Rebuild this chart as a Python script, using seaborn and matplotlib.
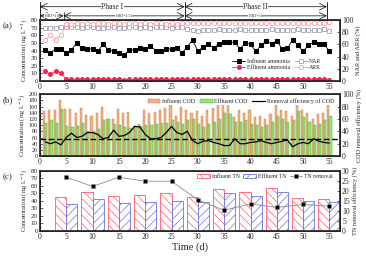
import warnings; warnings.filterwarnings('ignore')
import numpy as np, matplotlib
matplotlib.use('Agg')
import matplotlib.pyplot as plt
import seaborn as sns

sns.set_theme(style='ticks')
plt.rcParams['font.family'] = ['Liberation Serif', 'DejaVu Serif']
plt.rcParams['hatch.linewidth'] = 0.5

# ── data ────────────────────────────────────────────────────────
days = list(range(1, 56))
inf_nh4 = [41, 37, 42, 42, 37, 41, 50, 43, 42, 42, 39, 48, 41, 39, 37, 34, 41, 41, 43, 42,
           46, 40, 40, 42, 42, 43, 37,
           45, 54, 39, 45, 48, 44, 48, 51, 51, 51, 42, 50, 48, 39, 47, 53, 49, 53,
           42, 43, 54, 47, 39, 47, 51, 48, 48, 39]
eff_nh4 = [13, 9, 13, 11, 2, 2, 2, 2, 2, 2, 2, 2, 2, 2, 2, 1.5, 2, 2, 2, 2,
           2, 2, 2, 2, 2, 2, 2,
           2, 2, 2, 2, 2, 2, 2, 2, 2, 2, 2, 2, 2, 2, 2, 2, 2, 2,
           2, 2, 2, 2, 2, 2, 2, 2, 2, 1.5]
nar = [87, 87, 87, 88, 88, 88, 88, 87, 88, 88, 87, 87, 88, 88, 87, 87, 88, 88, 87, 88,
       87, 88, 88, 88, 87, 88, 88,
       85, 84, 82, 83, 84, 84, 85, 84, 83, 84, 85, 83, 84, 84, 83, 84, 85, 84,
       83, 84, 84, 85, 84, 83, 84, 84, 85, 82]
arr = [67, 76, 68, 75, 93, 94, 95, 94, 95, 94, 95, 96, 94, 95, 95, 94, 96, 95, 94, 95,
       94, 95, 95, 94, 95, 94, 95,
       95, 95, 96, 95, 96, 95, 95, 96, 95, 96, 95, 95, 96, 95, 95, 96, 95, 96,
       95, 95, 96, 95, 96, 95, 95, 95, 96, 97]

inf_cod = [146, 148, 148, 181, 151, 151, 140, 156, 132, 130, 138, 160, 119, 121, 151, 138,
           144, 98, 103, 149, 138, 143, 149, 156, 170, 128, 160,
           150, 140, 145, 130, 150, 155, 165, 170, 170, 125, 150, 140, 150, 125,
           130, 120, 135, 165, 150, 145, 130, 170, 150, 140, 120, 135, 140, 165]
eff_cod = [108, 117, 108, 152, 98, 93, 98, 108, 82, 82, 89, 117, 119, 104, 100, 95,
           90, 96, 98, 100, 102, 104, 106, 108, 116, 110, 104,
           115, 120, 105, 95, 105, 110, 120, 140, 135, 110, 110, 115, 105, 100,
           95, 100, 110, 130, 120, 110, 115, 145, 125, 110, 100, 105, 115, 130]
cod_rem = [23, 20, 23, 18, 30, 37, 30, 32, 38, 38, 35, 28, 30, 42, 32, 33, 38, 48, 47, 35,
           28, 28, 30, 38, 48, 38, 35,
           40, 25, 20, 24, 25, 22, 20, 17, 17, 28, 20, 20, 22, 23, 25, 22, 20, 22,
           24, 26, 15, 20, 22, 20, 28, 24, 22, 21]
cod_ref = 28

tn_days = [5, 10, 15, 20, 25, 30, 35, 40, 45, 50, 55]
inf_tn = [45, 51.5, 46, 48, 50, 45, 56, 52, 57, 44, 43]
eff_tn = [36, 42, 37, 38.5, 40, 39, 51, 46.5, 51.5, 39.5, 38.5]
tn_rem = [26.8, 22.2, 26.8, 24.8, 24.8, 15.5, 10.3, 13.5, 11.7, 13.2, 12.3]

# ── figure ──────────────────────────────────────────────────────
fig = plt.figure(figsize=(3.66, 2.58), dpi=100)
L, W = 0.109, 0.820
axa = fig.add_axes([L, 0.686, W, 0.236])
axb = fig.add_axes([L, 0.395, W, 0.240])
axc = fig.add_axes([L, 0.105, W, 0.233])
FS = 5.5
YL = 4.5
LG = 4.2

def style(ax, ymax, step, minor, fs=FS):
    ax.set_xlim(0, 57)
    ax.set_ylim(0, ymax)
    ax.set_xticks(range(0, 56, 5))
    ax.set_xticks(range(0, 57), minor=True)
    ax.set_yticks(np.arange(0, ymax + 0.1, step))
    ax.set_yticks(np.arange(0, ymax + 0.1, minor), minor=True)
    ax.tick_params(direction='in', labelsize=FS, length=2, width=0.5, pad=1.5)
    ax.tick_params(axis='y', labelsize=fs)
    ax.tick_params(which='minor', direction='in', length=1, width=0.4)
    for s in ax.spines.values():
        s.set_linewidth(0.7)

def right(ax, ymax, step, lab):
    ax.set_ylim(0, ymax)
    ax.set_yticks(range(0, ymax + 1, step))
    ax.tick_params(direction='in', labelsize=FS, length=2, width=0.5, pad=1.5)
    ax.set_ylabel(lab, fontsize=YL, labelpad=1.5)

# (a) ammonia
ra = axa.twinx()
sns.lineplot(x=days, y=inf_nh4, ax=axa, color='black', lw=0.6, marker='s', ms=2.6,
             mec='black', label='Influent ammonia')
sns.lineplot(x=days, y=eff_nh4, ax=axa, color='#ff1f4b', lw=0.6, marker='o', ms=2.8,
             mec='#ff1f4b', label='Effluent ammonia')
sns.lineplot(x=days, y=nar, ax=ra, color='#8a96a6', lw=0.5, marker='s', ms=3,
             mfc='white', mec='#8a96a6', mew=0.5, label='NAR')
sns.lineplot(x=days, y=arr, ax=ra, color='#ff8a96', lw=0.5, marker='o', ms=3.2,
             mfc='white', mec='#ff8a96', mew=0.5, label='ARR')
style(axa, 80, 10, 5, fs=5)
right(ra, 100, 20, 'NAR and ARR (%)')
axa.set_ylabel('Concentration (mg L$^{-1}$)', fontsize=YL, labelpad=1)
h1, l1 = axa.get_legend_handles_labels()
h2, l2 = ra.get_legend_handles_labels()
axa.get_legend().remove(); ra.get_legend().remove()
ra.legend(h1 + h2, l1 + l2, ncol=2, fontsize=LG, frameon=False, loc='lower right',
          bbox_to_anchor=(0.95, 0.12), handlelength=2.2, handletextpad=0.3,
          columnspacing=0.8, labelspacing=0.2, borderpad=0.1)

# phase / HRT annotations
tr = ('data', 'axes fraction')
def span(ax, x0, x1, y, txt, fs):
    ax.annotate('', xy=(x0, y), xytext=(x1, y), xycoords=tr, textcoords=tr,
                arrowprops=dict(arrowstyle='<->', lw=0.5, color='black',
                                shrinkA=0, shrinkB=0), annotation_clip=False)
    ax.text((x0 + x1) / 2, y, txt, transform=ax.get_xaxis_transform(), ha='center',
            va='center', fontsize=fs, bbox=dict(fc='white', ec='none', pad=0.3))
for xv in [0, 27.5, 54.5]:
    axa.plot([xv, xv], [1.0, 1.3], color='black', lw=0.6,
             transform=axa.get_xaxis_transform(), clip_on=False)
axa.plot([4.5, 4.5], [1.0, 1.13], color='black', lw=0.5,
         transform=axa.get_xaxis_transform(), clip_on=False)
span(axa, 0, 27.5, 1.22, 'Phase I', 5.5)
span(axa, 27.5, 54.5, 1.22, 'Phase II', 5.5)
span(axa, 0, 4.5, 1.07, 'HRT=1 h', 2.8)
span(axa, 4.5, 27.5, 1.07, 'HRT=1.5 h', 2.8)
span(axa, 27.5, 54.5, 1.07, 'HRT=3 h', 2.8)

# (b) COD
rb = axb.twinx()
bw = 0.4
axb.bar(np.array(days) - bw / 2, inf_cod, width=bw, color='#f5b27f', edgecolor='#b9794e',
        lw=0.3, label='Influent COD', zorder=2)
axb.bar(np.array(days) + bw / 2, eff_cod, width=bw, color='#8eea72', edgecolor='#4c9a3c',
        lw=0.3, label='Effluent COD', zorder=2)
sns.lineplot(x=days, y=cod_rem, ax=rb, color='black', lw=0.9,
             label='Removal efficiency of COD')
rb.axhline(cod_ref, color='black', lw=1.0, ls=(0, (4, 2)))
style(axb, 200, 20, 10, fs=4.3)
right(rb, 100, 20, 'COD removal efficiency (%)')
axb.set_ylabel('Concentration (mg L$^{-1}$)', fontsize=YL, labelpad=1)
h1, l1 = axb.get_legend_handles_labels()
h2, l2 = rb.get_legend_handles_labels()
rb.get_legend().remove()
lg = rb.legend(h1 + h2, l1 + l2, ncol=3, fontsize=LG, frameon=True, loc='upper right',
               bbox_to_anchor=(0.995, 1.0), handlelength=2.2, handletextpad=0.3,
               columnspacing=0.8, borderpad=0.2, fancybox=False)
lg.get_frame().set_edgecolor('none'); lg.get_frame().set_alpha(1)

# (c) TN
rc = axc.twinx()
bw2 = 2.1
axc.bar(np.array(tn_days) - bw2 / 2, inf_tn, width=bw2, facecolor='white',
        edgecolor='#ff5a6e', hatch='\\\\\\\\', lw=0.6, label='Influent TN', zorder=2)
axc.bar(np.array(tn_days) + bw2 / 2, eff_tn, width=bw2, facecolor='white',
        edgecolor='#6a73e0', hatch='////', lw=0.6, label='Effluent TN', zorder=2)
sns.lineplot(x=tn_days, y=tn_rem, ax=rc, color='#8c8c8c', lw=0.6, marker='s', ms=3.2,
             mfc='black', mec='#8c8c8c', mew=0.4, label='TN removal')
style(axc, 80, 10, 5, fs=5)
right(rc, 30, 5, 'TN removal efficiency (%)')
axc.set_ylabel('Concentration (mg L$^{-1}$)', fontsize=YL, labelpad=1)
axc.set_xlabel('Time (d)', fontsize=7.5, labelpad=1)
h1, l1 = axc.get_legend_handles_labels()
h2, l2 = rc.get_legend_handles_labels()
rc.get_legend().remove()
rc.legend(h1 + h2, l1 + l2, ncol=3, fontsize=LG, frameon=False, loc='upper right',
          bbox_to_anchor=(0.99, 1.02), handlelength=2.2, handletextpad=0.3,
          columnspacing=0.6, borderpad=0.2)

for ax, lab in [(axa, '(a)'), (axb, '(b)'), (axc, '(c)')]:
    ax.text(-0.125, 0.9, lab, transform=ax.transAxes, fontsize=6.5, ha='left', va='center')

fig.savefig('out.png', dpi=100)
